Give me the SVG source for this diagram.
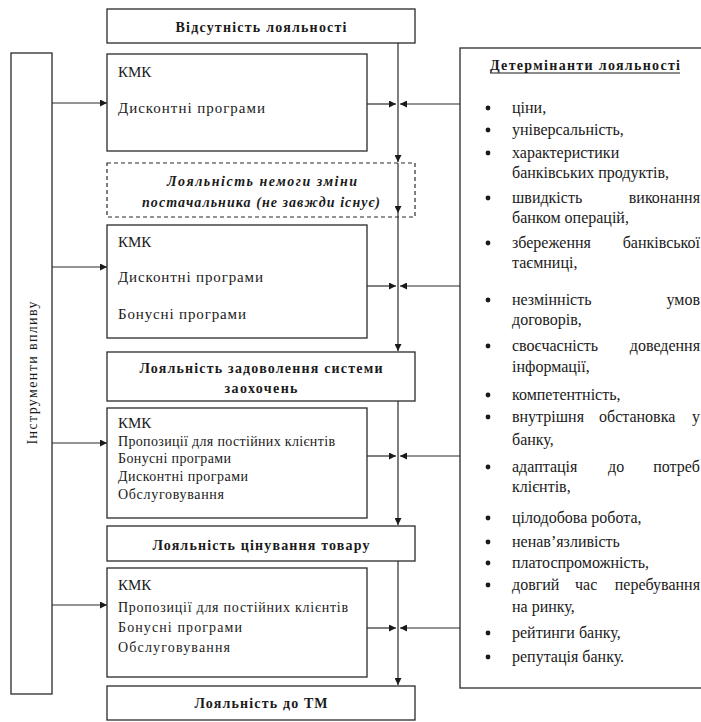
<svg xmlns="http://www.w3.org/2000/svg" width="701" height="722" viewBox="0 0 701 722">
<style>
.box{fill:#fff;stroke:#2a2a2a;stroke-width:1.3}
.dash{fill:none;stroke:#2a2a2a;stroke-width:1.2;stroke-dasharray:4 3}
.t{font-family:'Liberation Serif','Times New Roman','DejaVu Serif',serif;font-size:14px;fill:#1a1a1a}
.m{font-size:15px}
.r{font-size:16px}
.b{font-weight:bold}
.i{font-style:italic;font-weight:bold}
.c{text-anchor:middle}
.e{text-anchor:end}
.ln{fill:none;stroke:#2a2a2a;stroke-width:1.2}
.dot{fill:#1a1a1a}
</style>
<defs>
<marker id="ah" viewBox="0 0 10 10" refX="10" refY="5" markerWidth="7" markerHeight="7" markerUnits="userSpaceOnUse" orient="auto">
<path d="M0,0 L10,5 L0,10 Z" fill="#1a1a1a"/>
</marker>
</defs>

<g id="connectors">
<path class="ln" d="M398,43 V162" marker-end="url(#ah)"/>
<path class="ln" d="M398,163 V213" marker-end="url(#ah)"/>
<path class="ln" d="M398,213 V351" marker-end="url(#ah)"/>
<path class="ln" d="M398,401 V525" marker-end="url(#ah)"/>
<path class="ln" d="M398,561 V685" marker-end="url(#ah)"/>
<path class="ln" d="M52,103 H107" marker-end="url(#ah)"/>
<path class="ln" d="M52,267 H107" marker-end="url(#ah)"/>
<path class="ln" d="M52,443 H107" marker-end="url(#ah)"/>
<path class="ln" d="M52,605 H107" marker-end="url(#ah)"/>
<path class="ln" d="M367,104 H396" marker-end="url(#ah)"/>
<path class="ln" d="M367,286 H396" marker-end="url(#ah)"/>
<path class="ln" d="M367,456 H396" marker-end="url(#ah)"/>
<path class="ln" d="M367,628 H396" marker-end="url(#ah)"/>
<path class="ln" d="M460,104 H400" marker-end="url(#ah)"/>
<path class="ln" d="M460,286 H400" marker-end="url(#ah)"/>
<path class="ln" d="M460,456 H400" marker-end="url(#ah)"/>
<path class="ln" d="M460,628 H400" marker-end="url(#ah)"/>
</g>

<g id="tools">
<rect class="box" x="11" y="53" width="41" height="641"/>
<text class="t" transform="translate(37,373) rotate(-90)" text-anchor="middle" textLength="143" lengthAdjust="spacing">Інструменти впливу</text>
</g>

<g id="l0">
<rect class="box" x="107" y="9" width="308" height="34"/>
<text class="t b c" x="261" y="32" textLength="171" lengthAdjust="spacing">Відсутність лояльності</text>
</g>

<g id="k1">
<rect class="box" x="107" y="54" width="260" height="97"/>
<text class="t m" x="118" y="77">КМК</text>
<text class="t m" x="118" y="113" textLength="147" lengthAdjust="spacing">Дисконтні програми</text>
</g>

<g id="l1">
<rect class="dash" x="107" y="163" width="308" height="54"/>
<text class="t i c" x="262" y="186" textLength="190" lengthAdjust="spacing">Лояльність немоги зміни</text>
<text class="t i c" x="261" y="207" textLength="238" lengthAdjust="spacing">постачальника (не завжди існує)</text>
</g>

<g id="k2">
<rect class="box" x="107" y="225" width="260" height="113"/>
<text class="t m" x="118" y="247">КМК</text>
<text class="t m" x="118" y="282" textLength="145" lengthAdjust="spacing">Дисконтні програми</text>
<text class="t m" x="118" y="319" textLength="128" lengthAdjust="spacing">Бонусні програми</text>
</g>

<g id="l2">
<rect class="box" x="107" y="352" width="308" height="49"/>
<text class="t b c" x="261" y="373" textLength="243" lengthAdjust="spacing">Лояльність задоволення системи</text>
<text class="t b c" x="261" y="393" textLength="73" lengthAdjust="spacing">заохочень</text>
</g>

<g id="k3">
<rect class="box" x="107" y="408" width="260" height="110"/>
<text class="t m" x="118" y="428">КМК</text>
<text class="t" x="118" y="446" textLength="217" lengthAdjust="spacing">Пропозиції для постійних клієнтів</text>
<text class="t" x="118" y="463" textLength="113" lengthAdjust="spacing">Бонусні програми</text>
<text class="t" x="118" y="481" textLength="130" lengthAdjust="spacing">Дисконтні програми</text>
<text class="t" x="118" y="499" textLength="106" lengthAdjust="spacing">Обслуговування</text>
</g>

<g id="l3">
<rect class="box" x="107" y="526" width="308" height="35"/>
<text class="t b c" x="261" y="550" textLength="217" lengthAdjust="spacing">Лояльність цінування товару</text>
</g>

<g id="k4">
<rect class="box" x="107" y="568" width="260" height="109"/>
<text class="t m" x="118" y="590">КМК</text>
<text class="t" x="118" y="612" textLength="230" lengthAdjust="spacing">Пропозиції для постійних клієнтів</text>
<text class="t" x="118" y="632" textLength="124" lengthAdjust="spacing">Бонусні програми</text>
<text class="t" x="118" y="652" textLength="112" lengthAdjust="spacing">Обслуговування</text>
</g>

<g id="l4">
<rect class="box" x="107" y="686" width="308" height="34"/>
<text class="t b c" x="261" y="708" textLength="133" lengthAdjust="spacing">Лояльність до ТМ</text>
</g>

<g id="determinants">
<rect class="box" x="460" y="48" width="260" height="640"/>
<text class="t b c" x="585" y="70" font-size="13" textLength="190" lengthAdjust="spacing">Детермінанти лояльності</text>
<line x1="490" y1="73" x2="680" y2="73" stroke="#1a1a1a" stroke-width="1"/>
<g class="dot">
<circle cx="488" cy="108" r="2.4"/>
<circle cx="488" cy="130" r="2.4"/>
<circle cx="488" cy="153" r="2.4"/>
<circle cx="488" cy="198" r="2.4"/>
<circle cx="488" cy="243" r="2.4"/>
<circle cx="488" cy="300" r="2.4"/>
<circle cx="488" cy="346" r="2.4"/>
<circle cx="488" cy="395" r="2.4"/>
<circle cx="488" cy="417" r="2.4"/>
<circle cx="488" cy="467" r="2.4"/>
<circle cx="488" cy="518" r="2.4"/>
<circle cx="488" cy="542" r="2.4"/>
<circle cx="488" cy="563" r="2.4"/>
<circle cx="488" cy="585" r="2.4"/>
<circle cx="488" cy="633" r="2.4"/>
<circle cx="488" cy="657" r="2.4"/>
</g>
<text class="t r" x="512" y="113">ціни,</text>
<text class="t r" x="512" y="135">універсальність,</text>
<text class="t r" x="512" y="158">характеристики</text>
<text class="t r" x="512" y="178">банківських продуктів,</text>
<text class="t r" x="512" y="203">швидкість</text>
<text class="t r e" x="700" y="203">виконання</text>
<text class="t r" x="512" y="223">банком операцій,</text>
<text class="t r" x="512" y="248">збереження</text>
<text class="t r e" x="700" y="248">банківської</text>
<text class="t r" x="512" y="268">таємниці,</text>
<text class="t r" x="512" y="305">незмінність</text>
<text class="t r e" x="700" y="305">умов</text>
<text class="t r" x="512" y="325">договорів,</text>
<text class="t r" x="512" y="351">своєчасність</text>
<text class="t r e" x="700" y="351">доведення</text>
<text class="t r" x="512" y="372">інформації,</text>
<text class="t r" x="512" y="400">компетентність,</text>
<text class="t r" x="512" y="422">внутрішня</text>
<text class="t r" x="599" y="422">обстановка</text>
<text class="t r e" x="700" y="422">у</text>
<text class="t r" x="512" y="445">банку,</text>
<text class="t r" x="512" y="472">адаптація</text>
<text class="t r" x="608" y="472">до</text>
<text class="t r e" x="700" y="472">потреб</text>
<text class="t r" x="512" y="492">клієнтів,</text>
<text class="t r" x="512" y="523">цілодобова робота,</text>
<text class="t r" x="512" y="547">ненав’язливість</text>
<text class="t r" x="512" y="568">платоспроможність,</text>
<text class="t r" x="512" y="590">довгий</text>
<text class="t r" x="575" y="590">час</text>
<text class="t r e" x="700" y="590">перебування</text>
<text class="t r" x="512" y="612">на ринку,</text>
<text class="t r" x="512" y="638">рейтинги банку,</text>
<text class="t r" x="512" y="662">репутація банку.</text>
</g>
</svg>
